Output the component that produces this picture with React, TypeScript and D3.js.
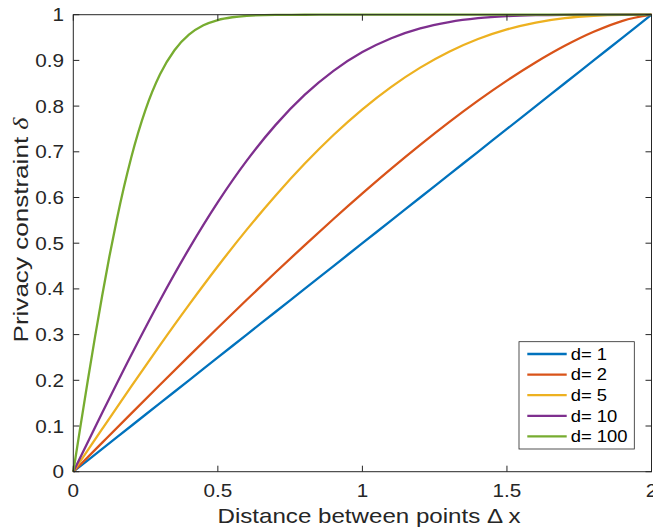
import React from "react";
import * as d3 from "d3";

const xs = [0, 0.1, 0.2, 0.3, 0.4, 0.5, 0.6, 0.7, 0.8, 0.9, 1.0, 1.1, 1.2, 1.3, 1.4, 1.5, 1.6, 1.7, 1.8, 1.9, 2.0];
const d1 = [0, 0.05, 0.1, 0.15, 0.2, 0.25, 0.3, 0.35, 0.4, 0.45, 0.5, 0.55, 0.6, 0.65, 0.7, 0.75, 0.8, 0.85, 0.9, 0.95, 1];
const d2 = [0, 0.0636, 0.1271, 0.1903, 0.2529, 0.315, 0.3762, 0.4364, 0.4954, 0.553, 0.609, 0.6632, 0.7152, 0.7649, 0.8119, 0.8557, 0.8959, 0.9319, 0.9626, 0.9867, 1];
const d5 = [0, 0.0936, 0.1863, 0.2771, 0.3651, 0.4496, 0.5297, 0.6046, 0.6738, 0.7368, 0.793, 0.8422, 0.8842, 0.919, 0.9468, 0.9679, 0.9829, 0.9925, 0.9977, 0.9997, 1];
const d10 = [0, 0.1289, 0.2549, 0.3753, 0.4876, 0.5899, 0.6807, 0.7589, 0.8244, 0.8772, 0.9182, 0.9485, 0.9699, 0.9838, 0.9923, 0.9969, 0.999, 0.9998, 1, 1, 1];
const xs100 = [0, 0.025, 0.05, 0.075, 0.1, 0.125, 0.15, 0.175, 0.2, 0.25, 0.3, 0.35, 0.4, 0.45, 0.5, 0.55, 0.6, 0.7, 0.8, 0.9, 1.0, 1.2, 1.4, 1.6, 1.8, 2.0];
const d100 = [0, 0.1003, 0.199, 0.2946, 0.3857, 0.4713, 0.5504, 0.6222, 0.6866, 0.7923, 0.8695, 0.9223, 0.9562, 0.9767, 0.9883, 0.9944, 0.9975, 0.9996, 0.9999, 1, 1, 1, 1, 1, 1, 1];

const seriesNames = ["d= 1", "d= 2", "d= 5", "d= 10", "d= 100"];
const seriesColors = ["#0072BD", "#D95319", "#EDB120", "#7E2F8E", "#77AC30"];
const seriesX = [xs, xs, xs, xs, xs100];
const seriesY = [d1, d2, d5, d10, d100];

const xTicks = [0, 0.5, 1, 1.5, 2];
const xTickLabels = ["0", "0.5", "1", "1.5", "2"];
const yTicks = [0, 0.1, 0.2, 0.3, 0.4, 0.5, 0.6, 0.7, 0.8, 0.9, 1];
const yTickLabels = ["0", "0.1", "0.2", "0.3", "0.4", "0.5", "0.6", "0.7", "0.8", "0.9", "1"];

const W = 653, H = 527;
const L = 73.3, R = 651.5, T = 14.7, B = 471.7;
const AX = "#262626";
const FONT = "'Liberation Sans', Arial, Helvetica, sans-serif";

export default function App() {
  const x = d3.scaleLinear().domain([0, 2]).range([L, R]);
  const y = d3.scaleLinear().domain([0, 1]).range([B, T]);
  const tl = 6;

  const lines = seriesY.map((ys, i) =>
    d3
      .line<number>()
      .x((_, j) => x(seriesX[i][j]))
      .y((v) => y(v))
      .curve(d3.curveMonotoneX)(ys) as string
  );

  const legX = 519, legY = 341.7, legW = 115.3, legH = 107.3;
  const entryY = (i: number) => 354 + i * 20.6;

  return (
    <svg width={W} height={H} style={{ position: "absolute", left: 0, top: 0, background: "#fff" }} fontFamily={FONT}>
      <rect x={0} y={0} width={W} height={H} fill="#fff" />
      {lines.map((d, i) => (
        <path key={i} d={d} fill="none" stroke={seriesColors[i]} strokeWidth={2.3} strokeLinejoin="round" />
      ))}
      <rect x={L} y={T} width={R - L} height={B - T} fill="none" stroke={AX} strokeWidth={1} />
      {xTicks.map((t, i) => (
        <g key={"xt" + i}>
          <line x1={x(t)} x2={x(t)} y1={B} y2={B - tl} stroke={AX} strokeWidth={1} />
          <line x1={x(t)} x2={x(t)} y1={T} y2={T + tl} stroke={AX} strokeWidth={1} />
          <text transform={`translate(${x(t)},497) scale(1.15,1)`} textAnchor="middle" fontSize={18} fill={AX}>
            {xTickLabels[i]}
          </text>
        </g>
      ))}
      {yTicks.map((t, i) => (
        <g key={"yt" + i}>
          <line x1={L} x2={L + tl} y1={y(t)} y2={y(t)} stroke={AX} strokeWidth={1} />
          <line x1={R} x2={R - tl} y1={y(t)} y2={y(t)} stroke={AX} strokeWidth={1} />
          <text transform={`translate(64,${y(t) + 6.5}) scale(1.15,1)`} textAnchor="end" fontSize={18} fill={AX}>
            {yTickLabels[i]}
          </text>
        </g>
      ))}
      <text x={369} y={523.3} textAnchor="middle" fontSize={21} fill={AX} textLength={303} lengthAdjust="spacingAndGlyphs">
        Distance between points Δ x
      </text>
      <text
        transform={`translate(28,230) rotate(-90)`}
        textAnchor="middle"
        fontSize={21}
        fill={AX}
        textLength={225}
        lengthAdjust="spacingAndGlyphs"
      >
        Privacy constraint <tspan fontFamily="'Liberation Serif', 'Times New Roman', serif" fontStyle="italic">δ</tspan>
      </text>
      <rect x={legX} y={legY} width={legW} height={legH} fill="#fff" stroke={AX} strokeWidth={0.8} />
      {seriesNames.map((n, i) => (
        <g key={"lg" + i}>
          <line x1={527.3} x2={566.7} y1={entryY(i)} y2={entryY(i)} stroke={seriesColors[i]} strokeWidth={2.3} />
          <text transform={`translate(570.7,${entryY(i) + 5.7}) scale(1.15,1)`} fontSize={16} fill="#000">
            {n}
          </text>
        </g>
      ))}
    </svg>
  );
}
